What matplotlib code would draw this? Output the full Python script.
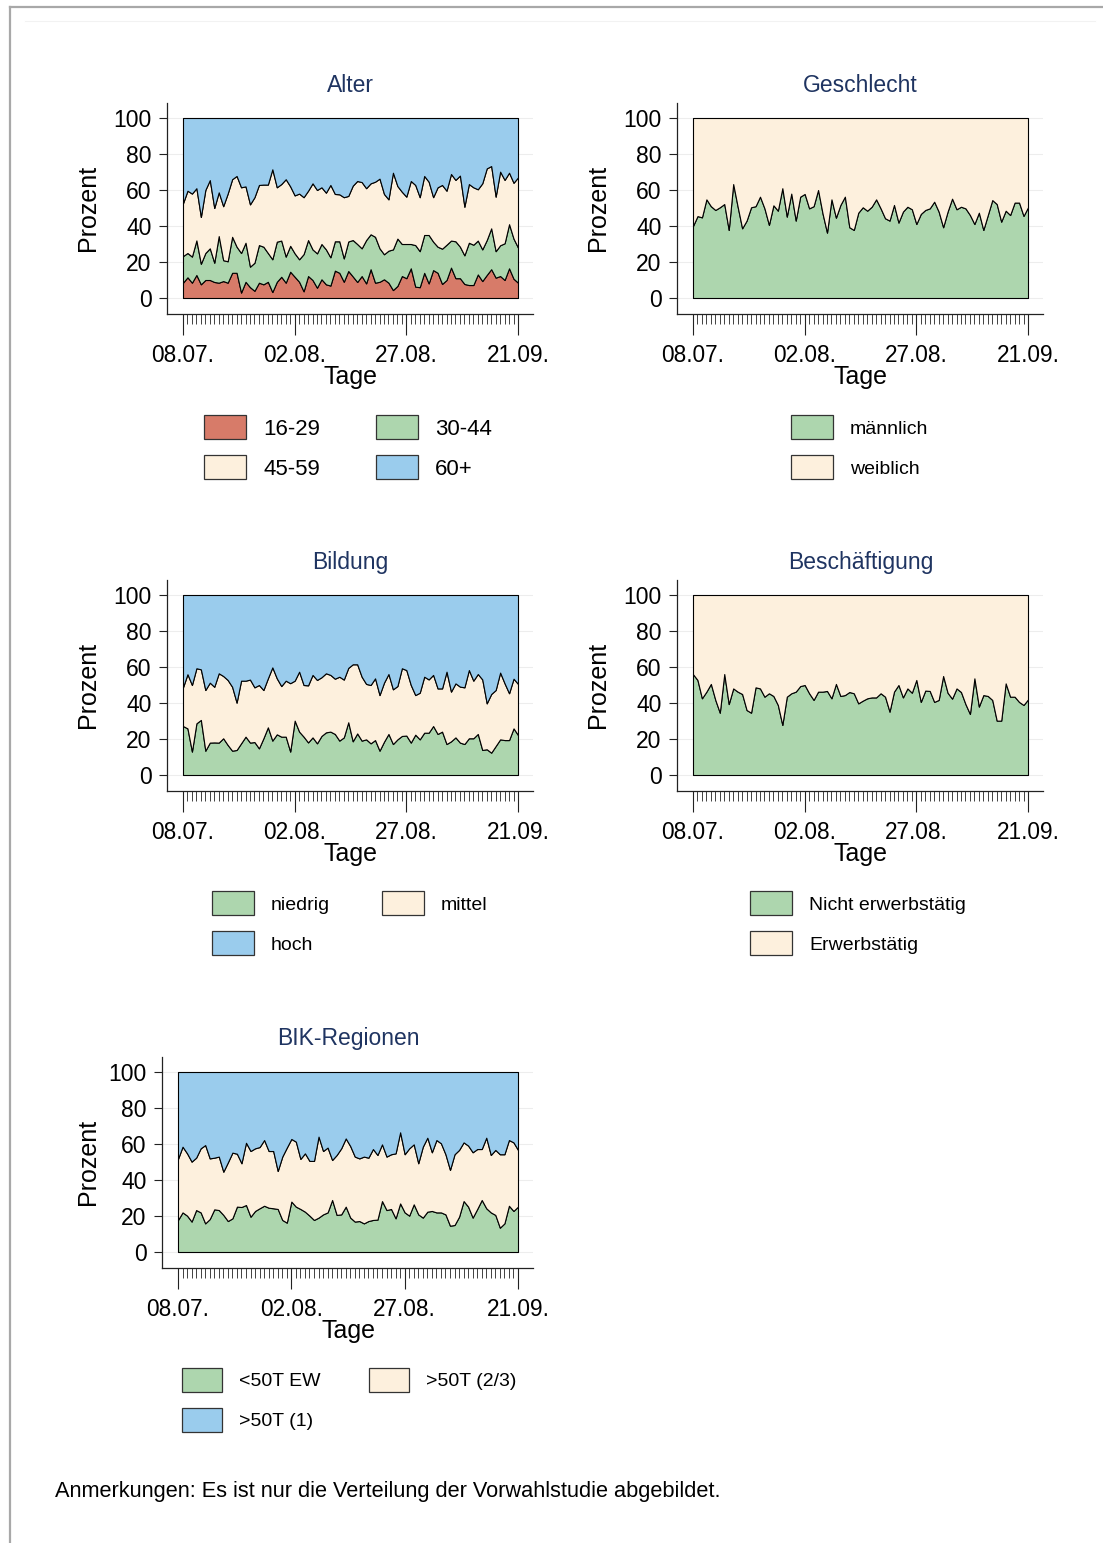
import matplotlib
matplotlib.use("Agg")
import matplotlib.pyplot as plt
from matplotlib.patches import Rectangle
from matplotlib.lines import Line2D

plt.rcParams['font.family'] = ['Liberation Sans', 'DejaVu Sans']

W, H = 1103, 1543
DPI = 100

# ---- data: daily shares (percent), 08.07. to 21.09. ----
days = list(range(76))
tick_pos = [0, 25, 50, 75]
tick_labels = ["08.07.", "02.08.", "27.08.", "21.09."]

alter_labels = ["16-29", "30-44", "45-59", "60+"]
alter_16_29 = [8.5, 11.5, 8.5, 12.8, 7.6, 10.0, 10.0, 8.9, 8.5, 9.4,
               8.5, 14.0, 14.0, 3.0, 9.0, 6.0, 4.0, 8.5, 7.6, 9.0,
               3.3, 9.0, 11.8, 8.5, 14.6, 11.8, 9.0, 3.7, 12.2, 10.0,
               5.7, 10.4, 7.6, 6.9, 15.2, 14.0, 9.0, 15.0, 12.0, 8.9,
               12.2, 8.1, 16.0, 8.5, 9.0, 10.4, 8.5, 4.4, 6.7, 12.2,
               11.0, 16.5, 6.3, 6.0, 14.0, 8.1, 15.5, 14.0, 7.8, 10.0,
               16.9, 11.0, 11.0, 7.8, 7.2, 7.2, 13.1, 9.4, 12.8, 16.0,
               11.3, 12.2, 10.0, 16.5, 10.7, 8.5]
alter_30_44 = [14.8, 13.5, 14.5, 19.2, 11.4, 15.0, 17.6, 10.7, 25.9, 11.6,
               11.9, 20.0, 14.5, 22.0, 21.7, 11.4, 15.6, 20.9, 20.9, 16.0,
               18.2, 22.3, 20.1, 14.5, 14.4, 13.0, 12.5, 20.7, 20.0, 17.0,
               19.1, 19.6, 19.4, 15.7, 16.3, 17.5, 13.0, 16.4, 20.2, 21.1,
               15.4, 24.1, 19.4, 25.5, 18.6, 13.9, 17.8, 22.6, 26.3, 17.8,
               19.0, 13.5, 23.1, 20.0, 21.0, 26.9, 15.8, 14.5, 19.6, 19.6,
               15.0, 20.5, 17.5, 15.9, 23.5, 22.4, 18.8, 17.6, 19.4, 22.7,
               14.7, 17.1, 20.4, 24.5, 22.3, 19.5]
alter_45_59 = [29.3, 34.6, 35.0, 29.0, 26.0, 35.0, 37.9, 30.4, 24.3, 30.0,
               37.6, 32.0, 39.3, 36.5, 31.3, 34.6, 36.4, 33.4, 34.5, 38.0,
               50.0, 30.2, 31.4, 43.0, 33.0, 32.2, 36.5, 31.6, 27.4, 36.7,
               35.2, 31.5, 31.5, 40.2, 26.3, 26.1, 34.0, 25.3, 30.2, 35.0,
               36.8, 28.8, 28.3, 30.6, 38.7, 33.5, 28.5, 42.6, 29.2, 29.0,
               26.3, 35.0, 33.4, 30.0, 32.8, 29.6, 24.7, 33.0, 35.4, 30.0,
               37.0, 34.1, 39.5, 27.0, 32.6, 31.9, 28.5, 36.7, 39.8, 34.6,
               30.3, 40.9, 35.2, 28.6, 31.0, 39.0]
alter_60plus = [47.4, 40.4, 42.0, 39.0, 55.0, 40.0, 34.5, 50.0, 41.3, 49.0,
                42.0, 34.0, 32.2, 38.5, 38.0, 48.0, 44.0, 37.2, 37.0, 37.0,
                28.5, 38.5, 36.7, 34.0, 38.0, 43.0, 42.0, 44.0, 40.4, 36.3,
                40.0, 38.5, 41.5, 37.2, 42.2, 42.4, 44.0, 43.3, 37.6, 35.0,
                35.6, 39.0, 36.3, 35.4, 33.7, 42.2, 45.2, 30.4, 37.8, 41.0,
                43.7, 35.0, 37.2, 44.0, 32.2, 35.4, 44.0, 38.5, 37.2, 40.4,
                31.1, 34.4, 32.0, 49.3, 36.7, 38.5, 39.6, 36.3, 28.0, 26.7,
                43.7, 29.8, 34.4, 30.4, 36.0, 33.0]

geschlecht_labels = ["männlich", "weiblich"]
maennlich = [40.0, 45.5, 44.8, 54.8, 51.0, 48.9, 50.4, 52.2, 37.8, 63.3,
             50.7, 38.7, 43.0, 50.4, 51.0, 56.3, 49.8, 40.6, 51.5, 48.5,
             61.0, 45.2, 58.0, 43.0, 56.3, 57.8, 49.8, 51.0, 60.0, 47.0,
             36.3, 54.8, 44.6, 51.7, 56.3, 39.3, 37.8, 47.4, 50.4, 48.5,
             50.7, 54.8, 49.8, 44.3, 43.0, 51.7, 41.9, 48.0, 50.7, 49.3,
             41.1, 46.7, 48.9, 49.8, 53.5, 48.0, 39.3, 48.0, 55.2, 49.3,
             50.7, 49.8, 46.1, 41.1, 47.4, 37.8, 46.1, 54.4, 52.2, 42.4,
             48.5, 46.1, 53.0, 53.0, 45.6, 50.4]
weiblich = [60.0, 54.5, 55.2, 45.2, 49.0, 51.1, 49.6, 47.8, 62.2, 36.7,
            49.3, 61.3, 57.0, 49.6, 49.0, 43.7, 50.2, 59.4, 48.5, 51.5,
            39.0, 54.8, 42.0, 57.0, 43.7, 42.2, 50.2, 49.0, 40.0, 53.0,
            63.7, 45.2, 55.4, 48.3, 43.7, 60.7, 62.2, 52.6, 49.6, 51.5,
            49.3, 45.2, 50.2, 55.7, 57.0, 48.3, 58.1, 52.0, 49.3, 50.7,
            58.9, 53.3, 51.1, 50.2, 46.5, 52.0, 60.7, 52.0, 44.8, 50.7,
            49.3, 50.2, 53.9, 58.9, 52.6, 62.2, 53.9, 45.6, 47.8, 57.6,
            51.5, 53.9, 47.0, 47.0, 54.4, 49.6]

bildung_labels = ["niedrig", "mittel", "hoch"]
bildung_niedrig = [27.2, 25.9, 13.0, 28.7, 30.6, 13.5, 18.0, 18.1, 18.0, 20.4,
                   16.7, 13.5, 13.9, 17.6, 21.3, 18.0, 18.3, 14.8, 20.4, 26.5,
                   19.1, 22.6, 21.3, 21.3, 13.0, 30.2, 24.1, 21.3, 18.1, 20.9,
                   17.6, 21.7, 23.7, 24.1, 22.8, 19.1, 20.9, 29.3, 18.7, 23.1,
                   19.1, 19.8, 17.6, 19.4, 13.5, 18.5, 22.8, 17.2, 19.8, 21.7,
                   21.9, 18.0, 22.4, 19.8, 23.5, 23.5, 27.2, 22.8, 24.1, 17.2,
                   18.7, 20.9, 18.0, 17.2, 20.4, 20.4, 22.8, 13.9, 14.3, 12.4,
                   16.1, 19.8, 19.4, 19.4, 25.9, 22.2]
bildung_mittel = [21.5, 30.1, 37.0, 30.6, 28.1, 33.7, 33.3, 30.9, 38.5, 34.6,
                  36.1, 35.5, 26.3, 34.8, 31.1, 35.0, 30.4, 35.2, 26.8, 27.2,
                  40.7, 31.1, 28.1, 31.1, 38.0, 22.2, 33.3, 28.7, 31.7, 34.7,
                  35.2, 32.6, 32.8, 31.5, 30.7, 35.5, 32.1, 30.2, 42.8, 38.4,
                  35.5, 30.8, 32.4, 34.3, 30.9, 32.8, 33.3, 30.4, 29.6, 37.6,
                  36.4, 32.0, 22.0, 25.9, 31.1, 29.6, 28.4, 25.3, 24.0, 40.2,
                  27.6, 30.0, 31.1, 31.5, 37.9, 32.0, 33.3, 39.2, 25.5, 32.6,
                  31.1, 37.1, 31.5, 26.0, 27.6, 28.4]
bildung_hoch = [51.3, 44.0, 50.0, 40.7, 41.3, 52.8, 48.7, 51.0, 43.5, 45.0,
                47.2, 51.0, 59.8, 47.6, 47.6, 47.0, 51.3, 50.0, 52.8, 46.3,
                40.2, 46.3, 50.6, 47.6, 49.0, 47.6, 42.6, 50.0, 50.2, 44.4,
                47.2, 45.7, 43.5, 44.4, 46.5, 45.4, 47.0, 40.5, 38.5, 38.5,
                45.4, 49.4, 50.0, 46.3, 55.6, 48.7, 43.9, 52.4, 50.6, 40.7,
                41.7, 50.0, 55.6, 54.3, 45.4, 46.9, 44.4, 51.9, 51.9, 42.6,
                53.7, 49.1, 50.9, 51.3, 41.7, 47.6, 43.9, 46.9, 60.2, 55.0,
                52.8, 43.1, 49.1, 54.6, 46.5, 49.4]

beschaeftigung_labels = ["Nicht erwerbstätig", "Erwerbstätig"]
nicht_erwerbstaetig = [56.0, 52.8, 42.6, 46.3, 50.6, 41.7, 34.6, 56.1, 39.4, 48.1,
                       46.3, 45.0, 36.1, 34.6, 48.7, 48.1, 43.5, 45.4, 43.9, 38.9,
                       27.8, 43.5, 45.4, 46.3, 49.4, 50.0, 45.4, 41.7, 46.3, 46.3,
                       46.7, 42.6, 50.6, 43.9, 44.4, 46.1, 45.4, 39.8, 41.3, 42.6,
                       43.1, 43.1, 45.4, 43.5, 35.2, 46.3, 50.0, 43.1, 48.1, 45.7,
                       52.8, 40.6, 46.9, 46.7, 40.6, 41.7, 55.0, 45.7, 42.4, 48.1,
                       46.1, 39.4, 33.9, 53.7, 38.0, 44.4, 43.9, 41.7, 30.2, 30.2,
                       50.9, 43.5, 43.5, 40.6, 38.9, 42.0]
erwerbstaetig = [44.0, 47.2, 57.4, 53.7, 49.4, 58.3, 65.4, 43.9, 60.6, 51.9,
                 53.7, 55.0, 63.9, 65.4, 51.3, 51.9, 56.5, 54.6, 56.1, 61.1,
                 72.2, 56.5, 54.6, 53.7, 50.6, 50.0, 54.6, 58.3, 53.7, 53.7,
                 53.3, 57.4, 49.4, 56.1, 55.6, 53.9, 54.6, 60.2, 58.7, 57.4,
                 56.9, 56.9, 54.6, 56.5, 64.8, 53.7, 50.0, 56.9, 51.9, 54.3,
                 47.2, 59.4, 53.1, 53.3, 59.4, 58.3, 45.0, 54.3, 57.6, 51.9,
                 53.9, 60.6, 66.1, 46.3, 62.0, 55.6, 56.1, 58.3, 69.8, 69.8,
                 49.1, 56.5, 56.5, 59.4, 61.1, 58.0]

bik_labels = ["<50T EW", ">50T (2/3)", ">50T (1)"]
bik_unter50 = [17.8, 22.0, 20.2, 16.9, 23.3, 22.0, 15.9, 18.3, 23.7, 23.3,
               20.6, 17.2, 18.7, 25.2, 25.0, 26.1, 19.6, 22.8, 24.3, 25.7,
               24.6, 24.3, 23.9, 17.8, 16.3, 28.0, 25.2, 23.9, 22.4, 20.2,
               17.8, 19.1, 20.9, 22.0, 28.9, 20.6, 20.9, 25.2, 19.1, 16.9,
               17.2, 15.9, 17.2, 17.8, 18.0, 28.3, 23.3, 23.9, 18.7, 27.0,
               22.0, 20.2, 26.5, 20.9, 19.1, 22.4, 22.8, 22.0, 22.0, 20.9,
               14.6, 15.0, 19.6, 28.3, 25.2, 19.1, 23.9, 28.9, 24.3, 22.0,
               20.6, 13.5, 15.9, 25.7, 22.8, 25.2]
bik_ueber50_23 = [33.9, 36.5, 34.6, 33.3, 29.1, 35.6, 43.5, 33.7, 28.7, 29.7,
                  24.0, 32.6, 36.5, 29.4, 24.3, 34.6, 36.5, 34.8, 34.0, 36.5,
                  31.5, 31.8, 21.1, 35.2, 41.7, 34.8, 36.1, 27.8, 32.4, 30.4,
                  32.8, 45.0, 35.2, 36.0, 22.2, 33.3, 36.7, 37.9, 39.7, 36.1,
                  34.8, 37.1, 35.2, 39.4, 35.9, 31.5, 29.7, 30.4, 36.1, 39.5,
                  32.3, 37.4, 33.3, 28.4, 39.4, 41.1, 32.6, 40.2, 38.4, 33.4,
                  31.0, 39.3, 37.1, 32.6, 33.9, 36.3, 33.3, 28.3, 39.2, 31.9,
                  36.1, 40.8, 38.4, 36.5, 38.1, 31.5]
bik_ueber50_1 = [48.3, 41.5, 45.2, 49.8, 47.6, 42.4, 40.6, 48.0, 47.6, 47.0,
                 55.4, 50.2, 44.8, 45.4, 50.7, 39.3, 43.9, 42.4, 41.7, 37.8,
                 43.9, 43.9, 55.0, 47.0, 42.0, 37.2, 38.7, 48.3, 45.2, 49.4,
                 49.4, 35.9, 43.9, 42.0, 48.9, 46.1, 42.4, 36.9, 41.2, 47.0,
                 48.0, 47.0, 47.6, 42.8, 46.1, 40.2, 47.0, 45.7, 45.2, 33.5,
                 45.7, 42.4, 40.2, 50.7, 41.5, 36.5, 44.6, 37.8, 39.6, 45.7,
                 54.4, 45.7, 43.3, 39.1, 40.9, 44.6, 42.8, 42.8, 36.5, 46.1,
                 43.3, 45.7, 45.7, 37.8, 39.1, 43.3]

# ---- styling ----
RED = "#d77b69"
GREEN = "#add6ae"
BEIGE = "#fdf0dd"
BLUE = "#9acced"
TITLE_COLOR = "#1f3461"
AXIS_COLOR = "#222222"

fig = plt.figure(figsize=(W / DPI, H / DPI), dpi=DPI)
fig.patch.set_facecolor("white")


def fx(x):
    return x / W


def fy(y):
    return 1 - y / H


def panel(x0, x1, y_top, y_bot, series, colors, title, ylabel_x):
    """Stacked-area panel; (x0, x1, y_top, y_bot) is the data box in pixels."""
    off = 16   # spines sit outside the data box
    ext = 15
    sx = (x1 - x0) / 75.0
    sy = (y_bot - y_top) / 100.0
    left, right = x0 - off, x1 + ext
    top, bot = y_top - ext, y_bot + off
    ax = fig.add_axes([fx(left), fy(bot), (right - left) / W, (bot - top) / H])
    ax.set_facecolor("none")
    ax.stackplot(days, *series, colors=colors, edgecolor="black",
                 linewidth=0.8, zorder=3)
    ax.set_xlim(-off / sx, 75 + ext / sx)
    ax.set_ylim(-off / sy, 100 + ext / sy)

    ax.set_yticks(range(0, 101, 20))
    ax.grid(axis="y", color="#ededed", linewidth=0.8, zorder=0)
    ax.set_axisbelow(True)
    ax.set_xticks(tick_pos)
    ax.set_xticklabels(tick_labels)
    ax.set_xticks(days, minor=True)

    ax.tick_params(axis="y", which="major", length=6, width=0.8, pad=5,
                   labelsize=16.5, color=AXIS_COLOR)
    ax.tick_params(axis="x", which="major", length=15, width=0.8, pad=6.5,
                   labelsize=16.3, color=AXIS_COLOR)
    ax.tick_params(axis="x", which="minor", length=7, width=0.6,
                   color=AXIS_COLOR)
    for s in ("top", "right"):
        ax.spines[s].set_visible(False)
    for s in ("left", "bottom"):
        ax.spines[s].set_color(AXIS_COLOR)
        ax.spines[s].set_linewidth(0.9)

    cx = (x0 + x1) / 2
    fig.text(fx(cx), fy(y_top - 33), title, ha="center", va="center",
             fontsize=16.5, color=TITLE_COLOR)
    fig.text(fx(cx), fy(y_bot + 79), "Tage", ha="center", va="center",
             fontsize=18)
    fig.text(fx(ylabel_x), fy((y_top + y_bot) / 2), "Prozent", ha="center",
             va="center", rotation=90, fontsize=18)
    return ax


def legend_block(entries, fontsize, pw=42, ph=24, gap=17):
    """entries: (label, colour, patch_left_px, patch_top_px)"""
    for label, color, px, py in entries:
        fig.add_artist(Rectangle((fx(px), fy(py + ph)), pw / W, ph / H,
                                 transform=fig.transFigure, facecolor=color,
                                 edgecolor="#333333", linewidth=0.9))
        fig.text(fx(px + pw + gap), fy(py + ph / 2), label, ha="left",
                 va="center_baseline", fontsize=fontsize)


# ---- panels ----
panel(183, 518, 118, 298,
      [alter_16_29, alter_30_44, alter_45_59, alter_60plus],
      [RED, GREEN, BEIGE, BLUE], "Alter", 88)
legend_block([(alter_labels[0], RED, 204, 415),
              (alter_labels[1], GREEN, 376, 415),
              (alter_labels[2], BEIGE, 204, 455),
              (alter_labels[3], BLUE, 376, 455)], 16)

panel(693, 1028, 118, 298, [maennlich, weiblich], [GREEN, BEIGE],
      "Geschlecht", 598)
legend_block([(geschlecht_labels[0], GREEN, 791, 415),
              (geschlecht_labels[1], BEIGE, 791, 455)], 14)

panel(183, 518, 595, 775, [bildung_niedrig, bildung_mittel, bildung_hoch],
      [GREEN, BEIGE, BLUE], "Bildung", 88)
legend_block([(bildung_labels[0], GREEN, 212, 891),
              (bildung_labels[1], BEIGE, 382, 891),
              (bildung_labels[2], BLUE, 212, 931)], 14)

panel(693, 1028, 595, 775, [nicht_erwerbstaetig, erwerbstaetig],
      [GREEN, BEIGE], "Beschäftigung", 598)
legend_block([(beschaeftigung_labels[0], GREEN, 750, 891),
              (beschaeftigung_labels[1], BEIGE, 750, 931)], 14)

panel(178, 518, 1072, 1252, [bik_unter50, bik_ueber50_23, bik_ueber50_1],
      [GREEN, BEIGE, BLUE], "BIK-Regionen", 88)
legend_block([(bik_labels[0], GREEN, 182, 1368),
              (bik_labels[1], BEIGE, 369, 1368),
              (bik_labels[2], BLUE, 182, 1408)], 14, pw=40)

fig.text(fx(55), fy(1492), "Anmerkungen: Es ist nur die Verteilung der "
         "Vorwahlstudie abgebildet.", ha="left", va="center", fontsize=15.7)

# outer frame of the graph region
fig.add_artist(Line2D([fx(10), fx(1103)], [fy(7), fy(7)],
                      transform=fig.transFigure, color="#a8a8a8", lw=1.6))
fig.add_artist(Line2D([fx(10), fx(10)], [fy(7), fy(1543)],
                      transform=fig.transFigure, color="#a8a8a8", lw=1.6))
fig.add_artist(Line2D([fx(25), fx(1095)], [fy(21), fy(21)],
                      transform=fig.transFigure, color="#f2f2f2", lw=0.8))

fig.savefig("out.png", dpi=DPI, facecolor="white")
